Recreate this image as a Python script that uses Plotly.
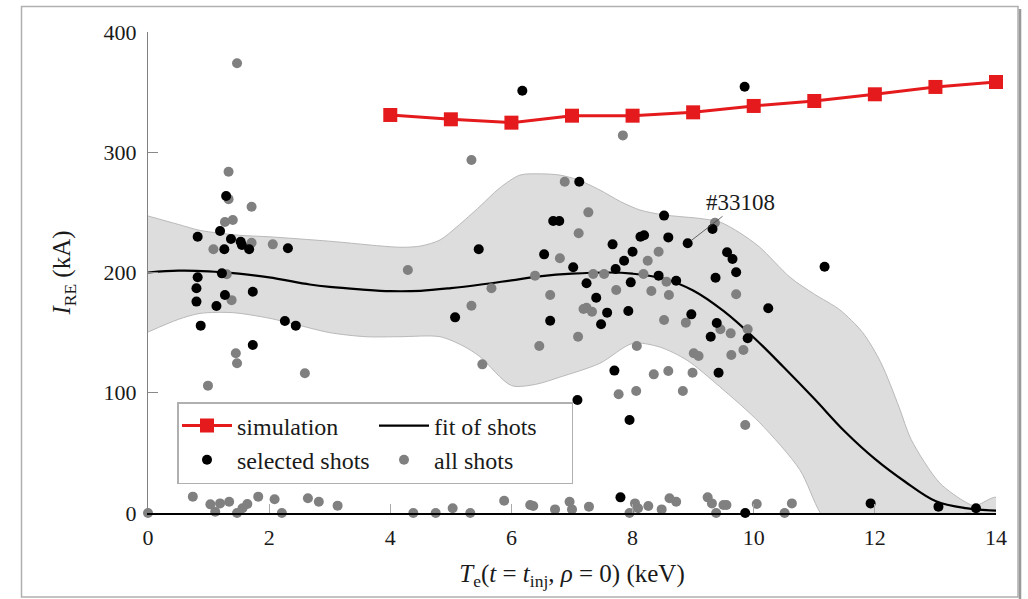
import plotly.graph_objects as go

# ---------------- data ----------------
sim_te = [4, 5, 6, 7, 8, 9, 10, 11, 12, 13, 14]
sim_ire = [331, 327.4, 324.6, 330.4, 330.4, 333.2, 338.5, 342.6, 348.2, 354.3, 358.4]

fit_te = [0, 0.5, 1, 1.5, 2, 2.67, 3, 3.5, 4, 4.5, 5, 5.5, 6, 6.5, 7, 7.6, 8, 8.5,
          9, 9.5, 10, 10.5, 11, 11.5, 12, 12.5, 13, 13.5, 14]
fit_ire = [200, 201.5, 201, 199, 196, 190, 188, 186, 184.5, 184.8, 187, 190, 193.5, 197,
           199, 200, 199, 195, 185, 168, 146, 121, 95, 68, 45, 26, 10, 4, 2]

band_up_te = [0, 0.5, 0.86, 1.5, 2, 3, 4.16, 4.5, 4.82, 5.1, 5.48, 5.8, 6.14, 6.5, 6.8,
              7.1, 7.46, 7.8, 8.12, 8.5, 8.78, 9.1, 9.44, 9.77, 10.1, 10.6, 11.0, 11.42,
              11.8, 12.1, 12.4, 12.6, 13.07, 13.5, 13.65, 14]
band_up_ire = [247, 240, 235, 231, 229.7, 226, 221, 222, 227, 238, 255, 270, 281, 282, 281,
               277, 268.6, 259, 252, 248, 246.5, 245, 242, 233, 221, 196, 182, 169,
               150, 125, 88, 61, 25, 9, 6, 13]
band_lo_te = [0, 0.5, 0.86, 1.4, 2, 2.5, 3, 3.6, 4.16, 4.82, 5.2, 5.48, 6.0, 6.4, 6.8,
              7.46, 8.0, 8.45, 8.9, 9.44, 10.1, 10.76, 11.1, 11.5, 12.5, 13.2, 13.65, 14]
band_lo_ire = [150.5, 161, 166, 166.6, 162, 156, 150, 146.6, 146.6, 146.6, 139, 130, 106,
               107, 113, 124.5, 141, 138, 127, 105, 75, 36, 0, -25, -30, -5, 1, -3]

sel_te = [0.82, 1.19, 1.29, 1.37, 1.53, 1.55, 1.67, 1.26, 2.31, 1.22, 0.82, 0.80, 0.80,
          1.27, 1.73, 1.13, 0.87, 2.26, 2.44, 1.73,
          5.07, 5.46, 6.18, 6.54, 6.64, 6.69, 6.79, 7.02, 7.09, 7.12, 7.24, 7.40, 7.48,
          7.58, 7.67, 7.70, 7.72, 7.80, 7.86, 7.93, 7.95, 7.97, 8.0, 8.13, 8.19, 8.43,
          8.52, 8.59, 8.72, 8.91, 8.97, 9.29, 9.32, 9.37, 9.39, 9.42, 9.56, 9.65, 9.71,
          9.85, 9.86, 9.90, 10.24, 11.17, 11.93, 13.05, 13.67]
sel_ire = [229.8, 234.5, 263.6, 227.8, 225.6, 222.9, 219.3, 219.3, 220.1, 199.3, 196, 186.9,
           175.8, 181.3, 184, 172.1, 155.8, 159.7, 155.8, 139.7,
           162.7, 219.3, 351.2, 215.1, 159.9, 242.8, 242.8, 204.3, 94, 275.5, 191, 179,
           156.9, 166.6, 223.4, 118.4, 202.9, 13, 209.8, 168, 77.3, 191.8, 217.3, 229.8,
           231, 197.4, 247.3, 229.2, 193.2, 224.3, 165.2, 146.6, 236.2, 195.7, 158, 116.7,
           216.8, 211.2, 200.2, 354.5, 0, 145.3, 170.2, 204.8, 8, 5.3, 3.9]

all_te = [1.33, 1.33, 1.71, 1.27, 1.40, 1.71, 1.08, 2.06, 1.30, 1.38, 1.45, 1.47, 2.59,
          0.99, 1.47,
          0, 0.74, 1.03, 1.11, 1.19, 1.34, 1.47, 1.56, 1.64, 1.82, 2.09, 2.21, 2.64, 2.82,
          3.13, 4.38, 4.75, 5.03, 5.32, 5.88, 6.31, 6.36, 6.72, 6.96, 7.0, 7.28, 7.95,
          8.04, 8.09, 8.26, 8.48, 8.61, 8.72, 9.24, 9.31, 9.38, 9.50, 9.55, 10.05, 10.51,
          10.63,
          4.29, 5.34, 5.34, 5.52, 5.67, 6.39, 6.46, 6.64, 6.80, 6.88, 7.10, 7.11, 7.19,
          7.24, 7.33, 7.27, 7.35, 7.53, 7.73, 7.77, 7.84, 8.06, 8.07, 8.18, 8.25, 8.31,
          8.35, 8.43, 8.52, 8.56, 8.59, 8.60, 8.83, 8.88, 8.99, 9.01, 9.09, 9.36, 9.45,
          9.62, 9.63, 9.71, 9.83, 9.86, 9.90]
all_ire = [283.8, 261, 254.7, 242, 243.7, 224.8, 219.3, 223.4, 198.5, 177, 132.8, 124.5,
           116.2, 105.9, 374,
           0, 13.6, 7.2, 1.1, 8.0, 9.4, 0, 3.9, 7.5, 13.6, 11.4, 0, 12.2, 9.4,
           6.1, 0, 0, 3.9, 0, 10.2, 6.6, 5.8, 3.0, 9.4, 3.0, 5.3, 0,
           8, 4, 5.8, 3.0, 12.2, 9.4, 13, 8, 0, 6.6, 6.6, 7.5, 0,
           8,
           202.1, 293.6, 172.4, 123.6, 186.9, 197.4, 138.9, 181.3, 211.8, 275.5, 146.6,
           232.6, 169.6, 170.7, 167.4, 250, 198.8, 198.8, 185.4, 98.7, 314, 101.5, 138.9,
           198.8, 209.8, 184.6, 115.3, 217.3, 160.5, 192.4, 118.1, 181.3, 101.5, 158.3,
           116.7, 132.8, 130.6, 241.4, 152.8, 149.4, 131.4, 181.9, 135.6, 73.2, 152.8]

x_ticks = [0, 2, 4, 6, 8, 10, 12, 14]
y_ticks = [0, 100, 200, 300, 400]

FONT = "'Liberation Serif', 'Times New Roman', serif"
TXT = "#1a1a1a"

fig = go.Figure()

# uncertainty band
fig.add_trace(go.Scatter(
    x=band_up_te + band_lo_te[::-1],
    y=band_up_ire + band_lo_ire[::-1],
    fill="toself", fillcolor="rgb(221,221,221)",
    line=dict(color="rgb(185,185,185)", width=1, shape="spline", smoothing=0.8),
    mode="lines", showlegend=False, hoverinfo="skip"))

fig.add_trace(go.Scatter(
    x=sim_te, y=sim_ire, mode="lines+markers", name="simulation",
    legendgroup="a",
    line=dict(color="#e41a1c", width=3),
    marker=dict(symbol="square", size=14, color="#e41a1c"),
    cliponaxis=False))

fig.add_trace(go.Scatter(
    x=fit_te, y=fit_ire, mode="lines", name="fit of shots", legendgroup="b",
    line=dict(color="black", width=2.2, shape="spline")))

fig.add_trace(go.Scatter(
    x=all_te, y=all_ire, mode="markers", name="all shots", legendgroup="b",
    marker=dict(size=10, color="#808080"), cliponaxis=False))

fig.add_trace(go.Scatter(
    x=sel_te, y=sel_ire, mode="markers", name="selected shots", legendgroup="a",
    marker=dict(size=10, color="black"), cliponaxis=False))

fig.add_annotation(
    x=8.91, y=224.3, text="#33108", showarrow=True, arrowhead=0, arrowwidth=0.8,
    arrowcolor="#444", ax=53, ay=-41, font=dict(family=FONT, size=23, color=TXT),
    standoff=5)

# figure frame
fig.add_shape(type="rect", xref="paper", yref="paper",
              x0=(21.5 - 148) / 848, x1=(1018 - 148) / 848,
              y0=(513 - 597) / 481, y1=(513 - 6.5) / 481,
              line=dict(color="#b0b0b0", width=1.5), layer="below")
fig.add_shape(type="line", xref="paper", yref="paper",
              x0=(1020 - 148) / 848, x1=(1020 - 148) / 848,
              y0=(513 - 599) / 481, y1=(513 - 9) / 481,
              line=dict(color="#999999", width=2.5), layer="below")

fig.update_layout(
    width=1028, height=599,
    margin=dict(l=148, r=32, t=32, b=86),
    paper_bgcolor="white", plot_bgcolor="white",
    font=dict(family=FONT, size=22, color=TXT),
    showlegend=True,
    legend=dict(
        orientation="h", traceorder="grouped", tracegroupgap=20, itemwidth=50,
        entrywidth=132, entrywidthmode="pixels",
        x=(177 - 148) / 848, y=(513 - 402) / 481, xanchor="left", yanchor="top",
        bgcolor="white", bordercolor="#b0b0b0", borderwidth=1.5,
        font=dict(family=FONT, size=24, color=TXT),
    ),
    xaxis=dict(
        range=[0, 14], tickvals=x_ticks, ticks="inside", ticklen=9, tickcolor="#aaaaaa",
        tickwidth=1, showline=True, linecolor="black", linewidth=1.5, showgrid=False,
        zeroline=False, ticklabelstandoff=4,
        tickfont=dict(family=FONT, size=22, color=TXT),
        title=dict(text="<i>T</i><sub>e</sub>(<i>t</i> = <i>t</i><sub>inj</sub>, <i>ρ</i> = 0) (keV)",
                   standoff=15, font=dict(family=FONT, size=25, color=TXT)),
    ),
    yaxis=dict(
        range=[0, 400], tickvals=y_ticks, ticks="inside", ticklen=10, tickcolor="#888888",
        tickwidth=1, showline=True, linecolor="#808080", linewidth=1.2, showgrid=False,
        zeroline=False, ticklabelstandoff=6,
        tickfont=dict(family=FONT, size=22, color=TXT),
        title=dict(text="<i>I</i><sub>RE</sub> (kA)", standoff=25,
                   font=dict(family=FONT, size=25, color=TXT)),
    ),
)

fig.write_html("out.html", config={"displayModeBar": False},
               post_script="document.body.style.margin='0px';")
